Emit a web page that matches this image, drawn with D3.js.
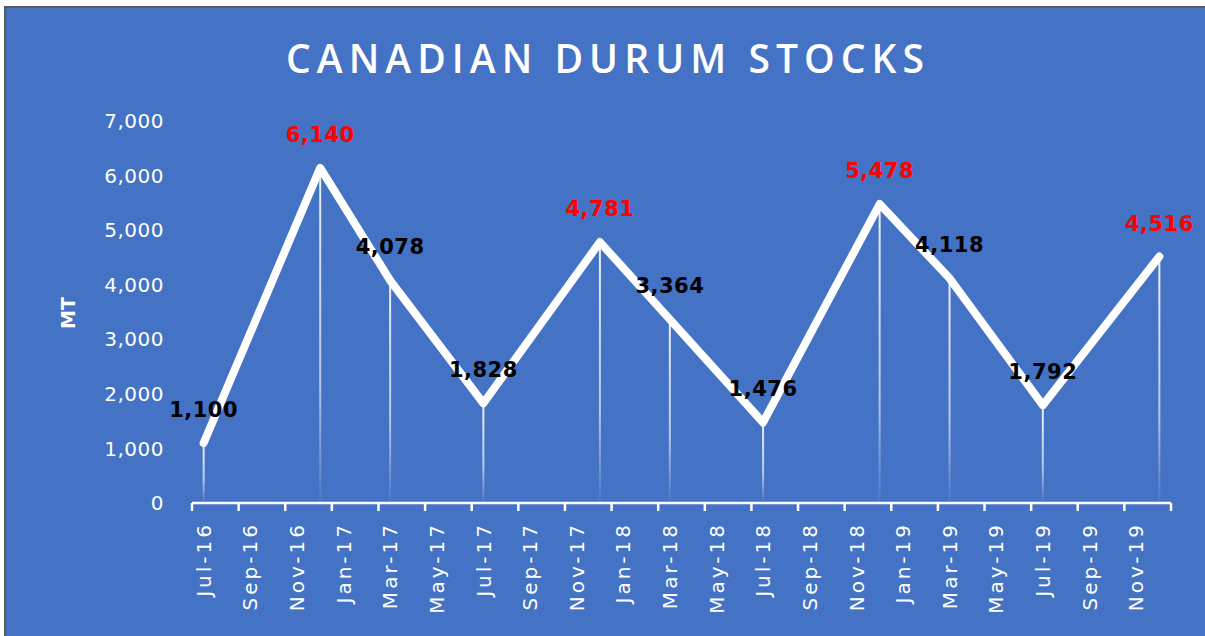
<!DOCTYPE html>
<html>
<head>
<meta charset="utf-8">
<script src="https://cdn.jsdelivr.net/npm/d3@7"></script>
<style>
  body { margin: 0; background: #ffffff; }
  svg { display: block; }
</style>
</head>
<body>
<svg id="chart"></svg>
<script>
// Data
const dates = ["2016-07", "2016-12", "2017-03", "2017-07", "2017-12", "2018-03",
               "2018-07", "2018-12", "2019-03", "2019-07", "2019-12"];
const stocks = [1100, 6140, 4078, 1828, 4781, 3364, 1476, 5478, 4118, 1792, 4516];
const yTicks = [0, 1000, 2000, 3000, 4000, 5000, 6000, 7000];
const firstMonth = "2016-07";
const lastMonth = "2019-12";

const W = 1205, H = 636;
const margin = {top: 121, right: 34, bottom: 133, left: 192};

const parseMonth = d3.timeParse("%Y-%m");
const fmtMonth = d3.timeFormat("%b-%y");

// Month categories on a band axis (one slot per month)
const months = d3.timeMonth.range(parseMonth(firstMonth), d3.timeMonth.offset(parseMonth(lastMonth), 1));
const monthKeys = months.map(fmtMonth);
const data = dates.map((d, i) => ({key: fmtMonth(parseMonth(d)), value: stocks[i]}));

const svg = d3.select("#chart")
    .attr("width", W)
    .attr("height", H);

// Frame and background
svg.append("rect").attr("x", 4).attr("y", 6).attr("width", W).attr("height", H).attr("fill", "#5a5a5a");
svg.append("rect").attr("x", 6).attr("y", 8).attr("width", W).attr("height", H).attr("fill", "#4472c4");

const x = d3.scaleBand()
    .domain(monthKeys)
    .range([margin.left, W - margin.right])
    .padding(0);

const y = d3.scaleLinear()
    .domain([0, 7000])
    .range([H - margin.bottom, margin.top]);

// Title
svg.append("text")
    .attr("x", 605)
    .attr("y", 73)
    .attr("text-anchor", "middle")
    .attr("textLength", 638)
    .attr("lengthAdjust", "spacing")
    .attr("fill", "#ffffff")
    .style("font-family", "'Open Sans', sans-serif")
    .style("font-weight", 600)
    .style("font-size", "39px")
    .text("CANADIAN DURUM STOCKS");

// Y axis labels (no axis line)
svg.append("g")
    .selectAll("text")
    .data(yTicks)
    .join("text")
    .attr("x", 164)
    .attr("y", d => y(d))
    .attr("dy", "0.36em")
    .attr("text-anchor", "end")
    .attr("fill", "#ffffff")
    .style("font-family", "'DejaVu Sans', sans-serif")
    .style("font-size", "20px")
    .style("letter-spacing", "0.5px")
    .text(d => d3.format(",")(d));

svg.append("text")
    .attr("transform", `translate(68,313) rotate(-90)`)
    .attr("text-anchor", "middle")
    .attr("dy", "0.36em")
    .attr("fill", "#ffffff")
    .style("font-family", "'DejaVu Sans', sans-serif")
    .style("font-weight", "bold")
    .style("font-size", "19px")
    .text("MT");

// X axis: line, tick marks at every second month boundary, labels at slot centres
const xAxisG = svg.append("g");
const y0 = y(0);
xAxisG.append("line")
    .attr("x1", x.range()[0]).attr("x2", x.range()[1])
    .attr("y1", y0).attr("y2", y0)
    .attr("stroke", "#ffffff").attr("stroke-width", 2.5);

const tickKeys = monthKeys.filter((d, i) => i % 2 === 0);
const tickPos = tickKeys.map(k => x(k)).concat([x.range()[1]]);
xAxisG.selectAll(".tick-mark")
    .data(tickPos)
    .join("line")
    .attr("class", "tick-mark")
    .attr("x1", d => d).attr("x2", d => d)
    .attr("y1", y0).attr("y2", y0 + 8)
    .attr("stroke", "#ffffff").attr("stroke-width", 2.5);

xAxisG.selectAll(".tick-label")
    .data(tickKeys)
    .join("text")
    .attr("class", "tick-label")
    .attr("transform", d => `translate(${x(d) + x.bandwidth() / 2},${y0 + 19}) rotate(-90)`)
    .attr("text-anchor", "end")
    .attr("dy", "0.36em")
    .attr("fill", "#ffffff")
    .style("font-family", "'DejaVu Sans', sans-serif")
    .style("font-size", "20px")
    .style("letter-spacing", "3px")
    .text(d => d);

// Fading drop lines
const defs = svg.append("defs");
const grad = defs.append("linearGradient")
    .attr("id", "dropFade")
    .attr("x1", 0).attr("y1", 0).attr("x2", 0).attr("y2", 1);
grad.append("stop").attr("offset", "0%").attr("stop-color", "#ffffff").attr("stop-opacity", 0.9);
grad.append("stop").attr("offset", "65%").attr("stop-color", "#ffffff").attr("stop-opacity", 0.6);
grad.append("stop").attr("offset", "100%").attr("stop-color", "#ffffff").attr("stop-opacity", 0.05);

const cx = d => x(d.key) + x.bandwidth() / 2;

svg.append("g")
    .selectAll("rect")
    .data(data)
    .join("rect")
    .attr("x", d => cx(d) - 1)
    .attr("y", d => y(d.value))
    .attr("width", 2)
    .attr("height", d => y0 - y(d.value) - 2)
    .attr("fill", "url(#dropFade)");

// Main line
const line = d3.line()
    .x(cx)
    .y(d => y(d.value));

svg.append("path")
    .datum(data)
    .attr("d", line)
    .attr("fill", "none")
    .attr("stroke", "#ffffff")
    .attr("stroke-width", 8)
    .attr("stroke-linejoin", "round")
    .attr("stroke-linecap", "round");

// Data labels: peaks in red
const isPeak = (d, i) => {
    const prev = i > 0 ? data[i - 1].value : -Infinity;
    const next = i < data.length - 1 ? data[i + 1].value : -Infinity;
    return d.value > prev && d.value > next;
};

svg.append("g")
    .selectAll("text")
    .data(data)
    .join("text")
    .attr("x", cx)
    .attr("y", d => y(d.value) - 26)
    .attr("text-anchor", "middle")
    .attr("fill", (d, i) => isPeak(d, i) ? "#ff0000" : "#000000")
    .style("font-family", "'DejaVu Sans', sans-serif")
    .style("font-weight", "bold")
    .style("font-size", "21px")
    .style("letter-spacing", "0.5px")
    .text(d => d3.format(",")(d.value));
</script>
</body>
</html>
